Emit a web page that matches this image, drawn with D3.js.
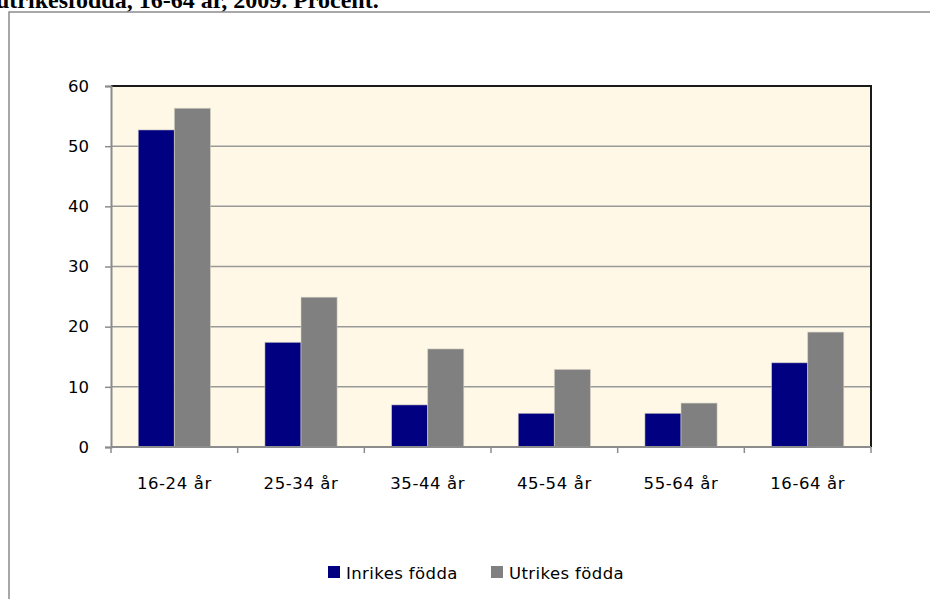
<!DOCTYPE html>
<html>
<head>
<meta charset="utf-8">
<script src="https://cdn.jsdelivr.net/npm/d3@7"></script>
<style>
  body { margin: 0; background: #fff; }
  svg { display: block; }
</style>
</head>
<body>
<svg id="chart" width="930" height="599"></svg>
<script>
// data
const categories = ['16-24 år', '25-34 år', '35-44 år', '45-54 år', '55-64 år', '16-64 år']
const series = ['Inrikes födda', 'Utrikes födda']
const inrikes = [52.7, 17.4, 7.0, 5.6, 5.6, 14.0]
const utrikes = [56.3, 24.9, 16.3, 12.9, 7.3, 19.1]
const yTicks = [0, 10, 20, 30, 40, 50, 60]
const colors = ['#000080', '#808080']

const svg = d3.select('svg#chart')
const font = '"DejaVu Sans", Verdana, sans-serif'

// cut-off heading above the frame
svg.append('text')
  .attr('x', -4)
  .attr('y', 8)
  .style('font-family', '"Liberation Serif", "Times New Roman", serif')
  .style('font-weight', 'bold')
  .style('font-size', '24px')
  .attr('fill', '#000')
  .text('utrikesfödda, 16-64 år, 2009. Procent.')

// outer chart frame, runs off right and bottom
svg.append('rect')
  .attr('x', 9).attr('y', 12)
  .attr('width', 940).attr('height', 620)
  .attr('fill', 'none')
  .attr('stroke', '#8c8c8c')
  .attr('stroke-width', 1.5)

const plot = { left: 111, top: 86, right: 871, bottom: 447 }

const x = d3.scaleBand()
  .domain(categories)
  .range([plot.left, plot.right])
  .paddingInner(0.43)
  .paddingOuter(0.215)

const xs = d3.scaleBand()
  .domain(series)
  .range([0, x.bandwidth()])

const y = d3.scaleLinear()
  .domain([0, 60])
  .range([plot.bottom, plot.top])

// plot background
svg.append('rect')
  .attr('x', plot.left).attr('y', plot.top)
  .attr('width', plot.right - plot.left)
  .attr('height', plot.bottom - plot.top)
  .attr('fill', '#fff8e6')

// gridlines
svg.append('g')
  .selectAll('line')
  .data(yTicks.filter(d => d > 0 && d < 60))
  .enter().append('line')
  .attr('x1', plot.left).attr('x2', plot.right)
  .attr('y1', d => y(d)).attr('y2', d => y(d))
  .attr('stroke', '#999')
  .attr('stroke-width', 1.5)

// bars
const table = categories.map((c, i) => ({ cat: c, vals: [inrikes[i], utrikes[i]] }))

const group = svg.append('g')
  .selectAll('g')
  .data(table)
  .enter().append('g')
  .attr('transform', d => `translate(${x(d.cat)},0)`)

group.selectAll('rect')
  .data(d => d.vals.map((v, j) => ({ s: series[j], v: v, j: j })))
  .enter().append('rect')
  .attr('x', d => xs(d.s))
  .attr('width', xs.bandwidth())
  .attr('y', d => y(d.v))
  .attr('height', d => y(0) - y(d.v))
  .attr('fill', d => colors[d.j])
  .attr('stroke', '#d8d4c8')
  .attr('stroke-opacity', 0.7)
  .attr('stroke-width', 0.8)

// top and right border of plot
svg.append('path')
  .attr('d', `M${plot.left},${plot.top}H${plot.right}V${plot.bottom}`)
  .attr('fill', 'none')
  .attr('stroke', '#1a1a1a')
  .attr('stroke-width', 2)

// y axis
const yAxis = svg.append('g')
  .attr('transform', `translate(${plot.left},0)`)
  .call(d3.axisLeft(y).tickValues(yTicks).tickSize(6).tickPadding(16))
yAxis.select('.domain').attr('stroke', '#8c8c8c').attr('stroke-width', 2)
yAxis.selectAll('.tick line').attr('stroke', '#8c8c8c').attr('stroke-width', 1.5)
yAxis.selectAll('.tick text')
  .style('font-family', font).style('font-size', '16.5px').attr('fill', '#000')

// x axis: ticks sit on category boundaries
const xAxis = svg.append('g')
  .attr('transform', `translate(0,${plot.bottom})`)
xAxis.append('line')
  .attr('x1', plot.left).attr('x2', plot.right)
  .attr('stroke', '#8c8c8c').attr('stroke-width', 2)
xAxis.selectAll('.tk')
  .data(d3.range(categories.length + 1))
  .enter().append('line')
  .attr('class', 'tk')
  .attr('x1', i => plot.left + i * x.step())
  .attr('x2', i => plot.left + i * x.step())
  .attr('y1', 0).attr('y2', 6)
  .attr('stroke', '#8c8c8c').attr('stroke-width', 1.5)
xAxis.selectAll('text')
  .data(categories)
  .enter().append('text')
  .attr('x', d => x(d) + x.bandwidth() / 2)
  .attr('y', 42)
  .attr('text-anchor', 'middle')
  .style('font-family', font).style('font-size', '16.5px')
  .style('letter-spacing', '0.6px')
  .attr('fill', '#000')
  .text(d => d)

// legend
const legendX = [328, 491]
const legend = svg.append('g')
  .selectAll('g')
  .data(series)
  .enter().append('g')
  .attr('transform', (d, i) => `translate(${legendX[i]},566)`)
legend.append('rect')
  .attr('width', 12).attr('height', 12)
  .attr('fill', (d, i) => colors[i])
legend.append('text')
  .attr('x', 18).attr('y', 12.5)
  .style('font-family', font).style('font-size', '16.5px')
  .style('letter-spacing', '0.4px')
  .attr('fill', '#000')
  .text(d => d)
</script>
</body>
</html>
